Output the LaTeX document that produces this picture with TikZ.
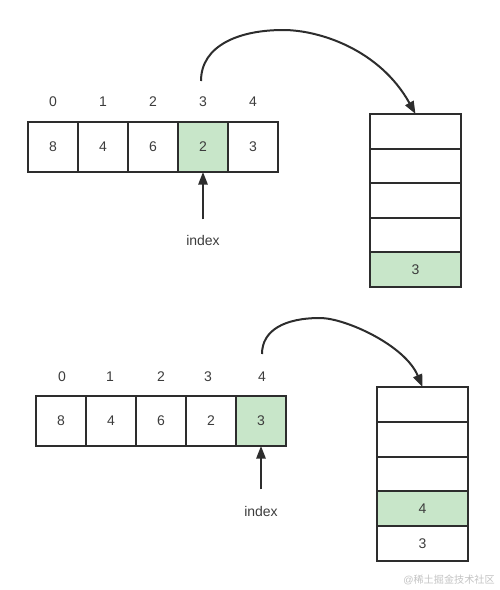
\documentclass[tikz,border=0pt]{standalone}
\usepackage{fontspec}
\setmainfont{Liberation Sans}
\newfontfamily\cjkfont{Noto Sans CJK SC}
\usetikzlibrary{arrows.meta}

\definecolor{cellgreen}{RGB}{200,230,201}
\definecolor{linegray}{RGB}{45,45,45}
\definecolor{textgray}{RGB}{60,60,60}
\definecolor{markgray}{RGB}{195,195,195}

\tikzset{every picture/.style={line width=0.75pt}}
\tikzset{
  cell/.style={draw=linegray, line width=1.5pt, minimum width=37.5pt, minimum height=37.5pt,
    inner sep=0pt, outer sep=0pt, text=textgray, font=\fontsize{10.5}{12}\selectfont},
  slot/.style={cell, minimum width=68.25pt, minimum height=26pt},
  hit/.style={fill=cellgreen},
  idxlabel/.style={text=textgray, inner sep=0.75pt, font=\fontsize{10.5}{12}\selectfont},
  ptr/.style={draw=linegray, line width=1.5pt, -{Triangle[length=9.5pt,width=7pt]}}
}

\begin{document}
\begin{tikzpicture}[x=0.75pt,y=0.75pt,yscale=-1,xscale=1]
\useasboundingbox (0,0) rectangle (500,590);

%Top array
\node[cell] (a1) at (53,147) {8};
\node[cell] (a2) at (103,147) {4};
\node[cell] (a3) at (153,147) {6};
\node[cell,hit] (a4) at (203,147) {2};
\node[cell] (a5) at (253,147) {3};
% Index labels
\node[idxlabel] (ta1) at (53,102) {0};
\node[idxlabel] (ta2) at (103,102) {1};
\node[idxlabel] (ta3) at (153,102) {2};
\node[idxlabel] (ta4) at (203,102) {3};
\node[idxlabel] (ta5) at (253,102) {4};

%Top stack
\node[slot] (s1) at (415.5,131.3) {};
\node[slot] (s2) at (415.5,165.9) {};
\node[slot] (s3) at (415.5,200.5) {};
\node[slot] (s4) at (415.5,235.1) {};
\node[slot,hit] (s5) at (415.5,269.7) {3};

% Text Node
\node[idxlabel] (i1) at (203,240) {index};
\draw[ptr] (i1.north) ++(0,-14) -- (a4.south);

%Curved arrow, top
\coordinate (c1) at (201,81);
\draw[ptr] (c1) .. controls (201,45) and (240,30) .. (283,30) .. controls (320,30) and (380,50) .. (s1.north);

%Bottom array
\node[cell] (b1) at (61,421) {8};
\node[cell] (b2) at (111,421) {4};
\node[cell] (b3) at (161,421) {6};
\node[cell] (b4) at (211,421) {2};
\node[cell,hit] (b5) at (261,421) {3};
% Index labels
\node[idxlabel] (tb1) at (62,377) {0};
\node[idxlabel] (tb2) at (110,377) {1};
\node[idxlabel] (tb3) at (161,377) {2};
\node[idxlabel] (tb4) at (208,377) {3};
\node[idxlabel] (tb5) at (262,377) {4};

%Bottom stack
\node[slot] (r1) at (422.5,404.4) {};
\node[slot] (r2) at (422.5,439.2) {};
\node[slot] (r3) at (422.5,474) {};
\node[slot,hit] (r4) at (422.5,508.8) {4};
\node[slot] (r5) at (422.5,543.6) {3};

% Text Node
\node[idxlabel] (i2) at (261,511) {index};
\draw[ptr] (i2.north) ++(0,-15) -- (b5.south);

%Curved arrow, bottom
\coordinate (c2) at (262,354);
\draw[ptr] (c2) .. controls (262,330) and (285,318) .. (320,318) .. controls (345,318) and (405,345) .. (r1.north);

% Watermark
\node[text=markgray, inner sep=0pt, font=\fontsize{7.6}{9}\selectfont] (wm) at (449,580) {@{\cjkfont 稀土掘金技术社区}};

\end{tikzpicture}
\end{document}
